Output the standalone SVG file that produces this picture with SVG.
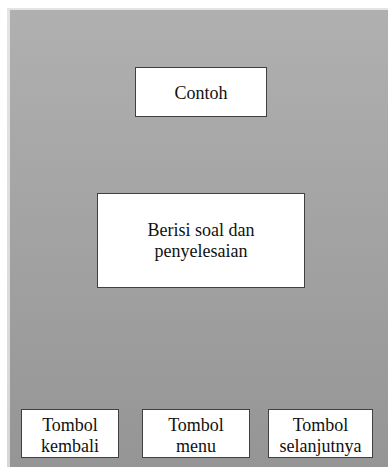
<svg xmlns="http://www.w3.org/2000/svg" width="388" height="467" viewBox="0 0 388 467">
<defs>
<linearGradient id="bg" x1="0" y1="0" x2="0" y2="1">
<stop offset="0" stop-color="#b0b0b0"/>
<stop offset="1" stop-color="#959595"/>
</linearGradient>
<linearGradient id="sh" x1="0" y1="0" x2="0" y2="1">
<stop offset="0" stop-color="#e4e4e4"/>
<stop offset="1" stop-color="#d6d6d6"/>
</linearGradient>
</defs>
<style>
.box{fill:#ffffff;stroke:#404040;stroke-width:1}
</style>
<rect x="0" y="0" width="388" height="467" fill="#ffffff"/>
<rect x="7" y="8" width="381" height="459" fill="url(#sh)"/>
<rect x="10" y="10" width="378" height="457" fill="url(#bg)"/>
<g id="contoh">
<rect class="box" x="135.5" y="67.5" width="131" height="49"/>
<text x="201" y="98.5" font-family="Liberation Serif" font-size="18" fill="#111111" text-anchor="middle">Contoh</text>
</g>
<g id="isi">
<rect class="box" x="97.5" y="193.5" width="207" height="94"/>
<text x="201" y="235.5" font-family="Liberation Serif" font-size="18" fill="#111111" text-anchor="middle">Berisi soal dan</text>
<text x="201" y="256.5" font-family="Liberation Serif" font-size="18" fill="#111111" text-anchor="middle">penyelesaian</text>
</g>
<g id="kembali">
<rect class="box" x="21.5" y="409.5" width="97" height="48"/>
<text x="70" y="430.5" font-family="Liberation Serif" font-size="18" fill="#111111" text-anchor="middle">Tombol</text>
<text x="70" y="451.5" font-family="Liberation Serif" font-size="18" fill="#111111" text-anchor="middle">kembali</text>
</g>
<g id="menu">
<rect class="box" x="142.5" y="409.5" width="107" height="48"/>
<text x="196" y="430.5" font-family="Liberation Serif" font-size="18" fill="#111111" text-anchor="middle">Tombol</text>
<text x="196" y="451.5" font-family="Liberation Serif" font-size="18" fill="#111111" text-anchor="middle">menu</text>
</g>
<g id="selanjutnya">
<rect class="box" x="268.5" y="409.5" width="104" height="48"/>
<text x="320.5" y="430.5" font-family="Liberation Serif" font-size="18" fill="#111111" text-anchor="middle">Tombol</text>
<text x="320.5" y="451.5" font-family="Liberation Serif" font-size="18" fill="#111111" text-anchor="middle">selanjutnya</text>
</g>
<g id="connectors"></g>
</svg>
